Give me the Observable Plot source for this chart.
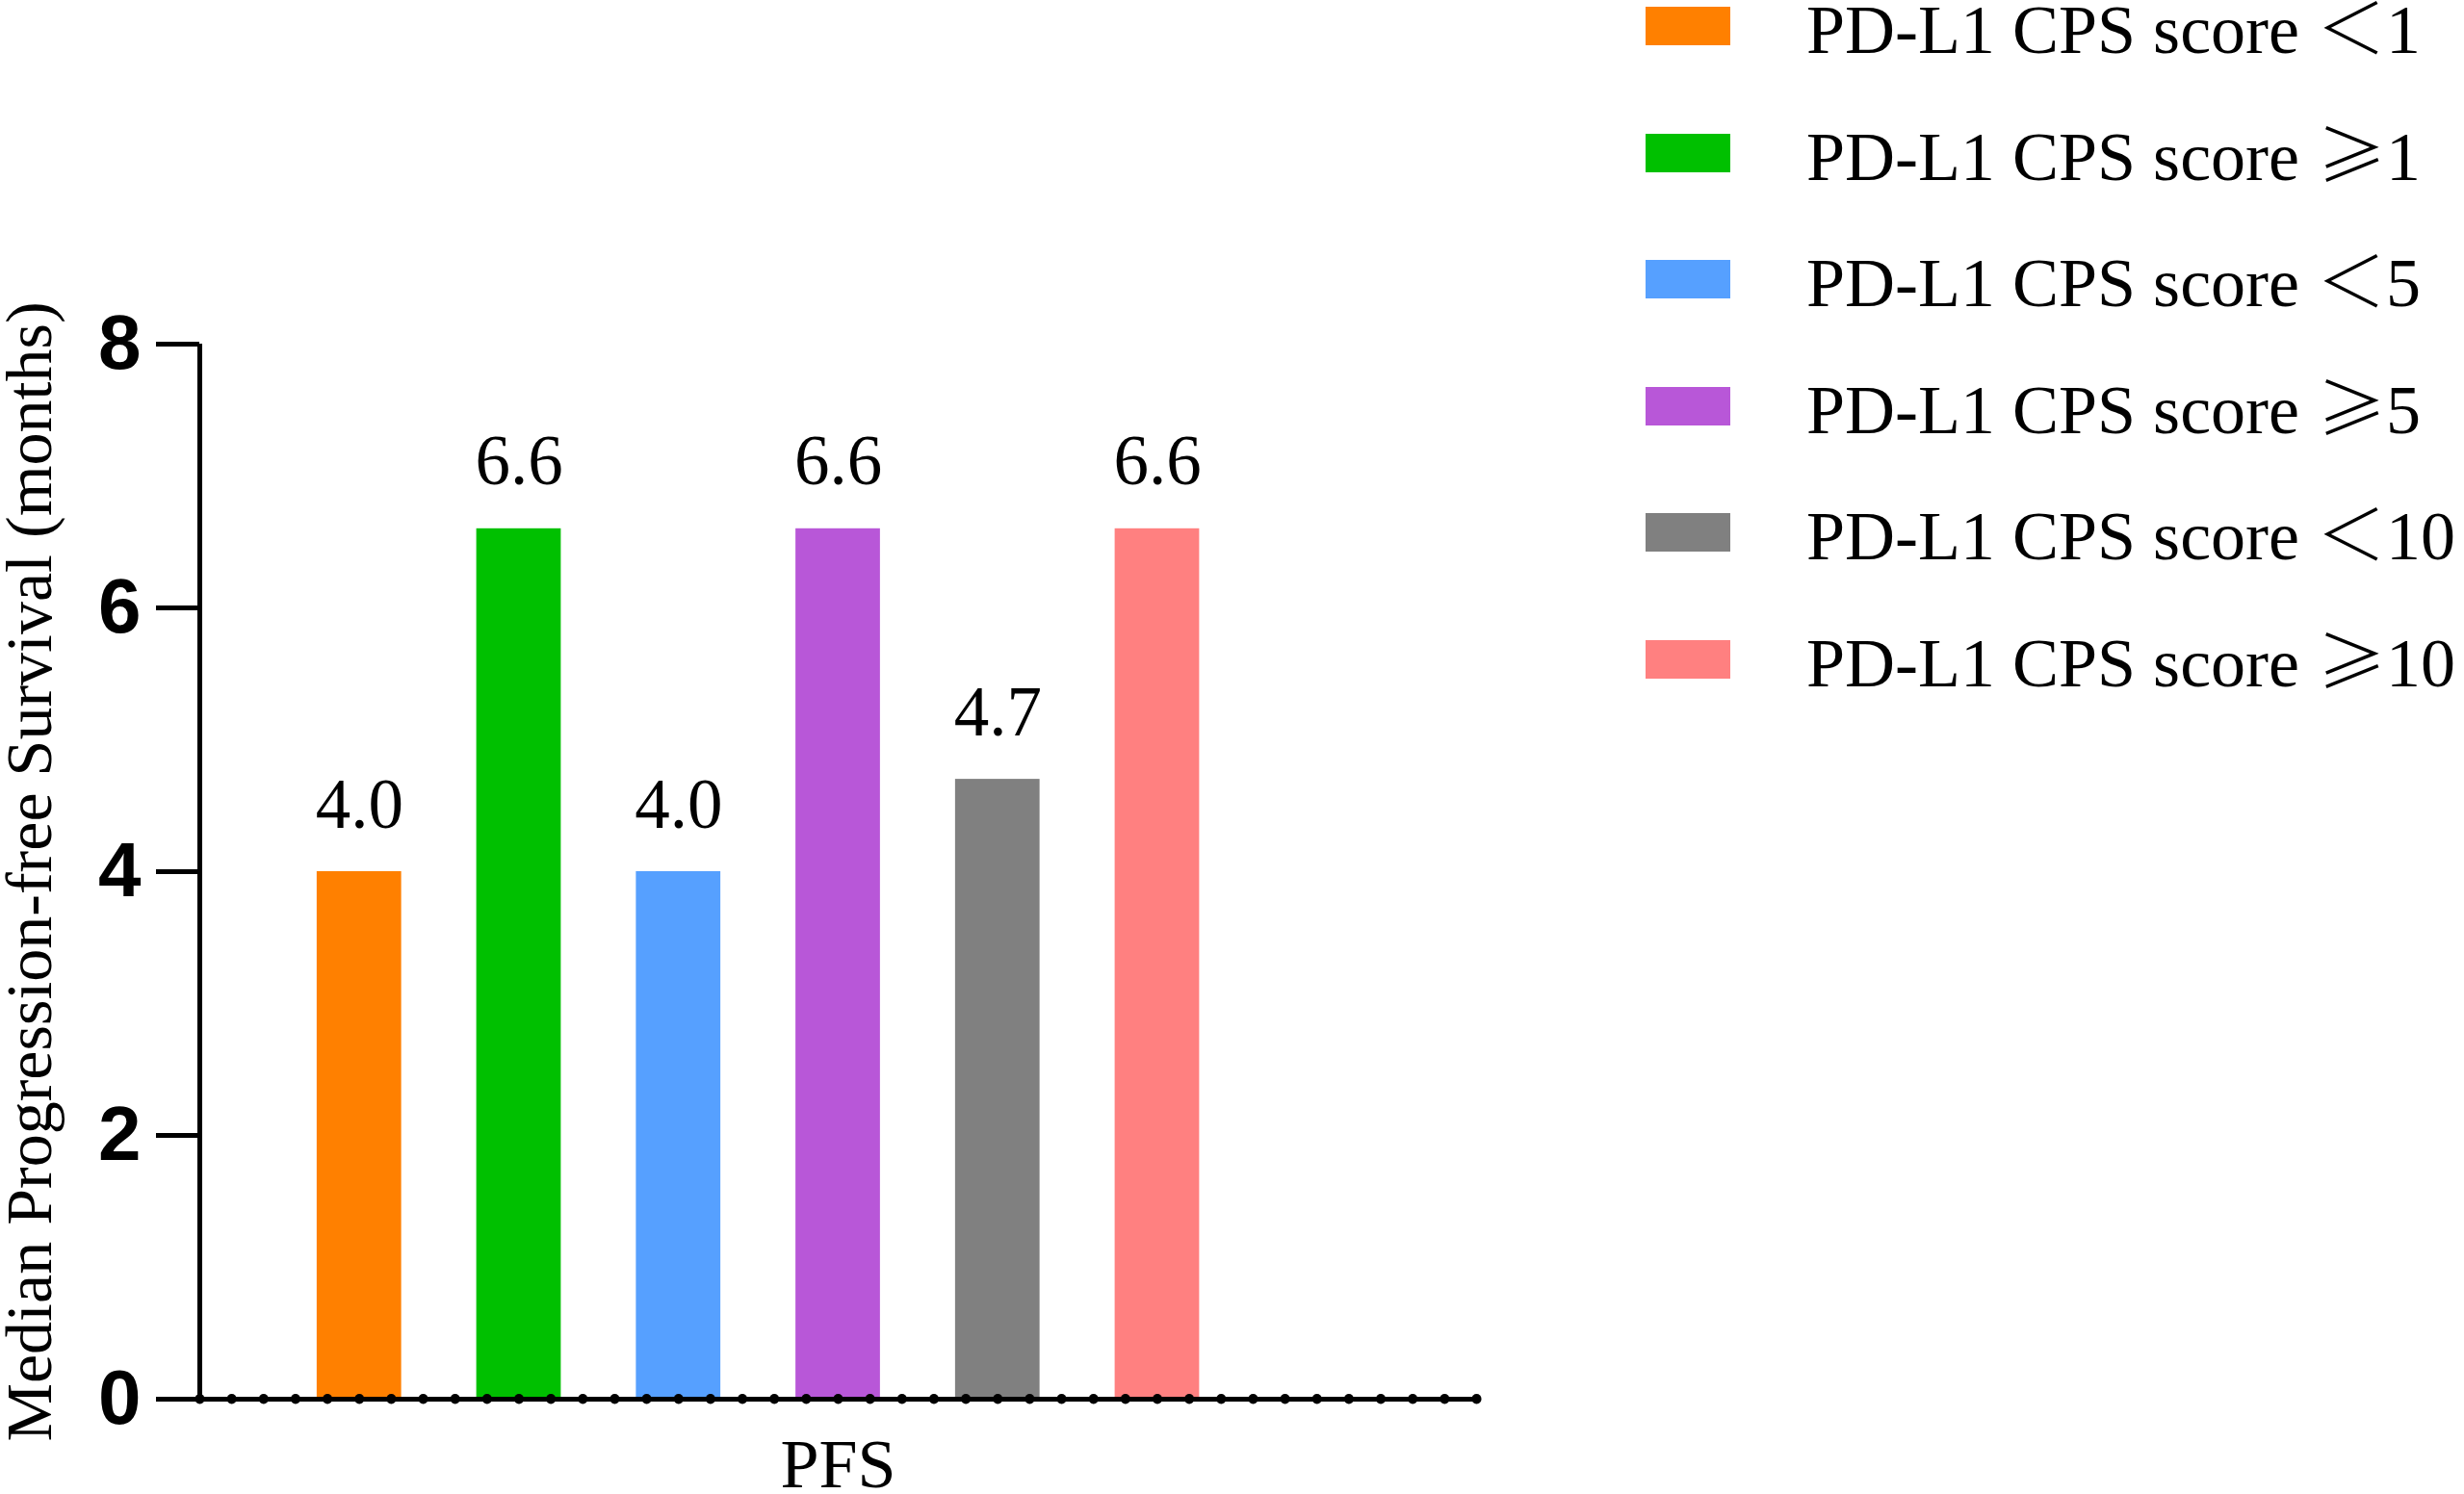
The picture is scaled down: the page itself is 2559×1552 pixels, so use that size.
<!DOCTYPE html>
<html>
<head>
<meta charset="utf-8">
<script src="https://cdn.jsdelivr.net/npm/d3@7"></script>
<script src="https://cdn.jsdelivr.net/npm/@observablehq/plot@0.6"></script>
<style>
  html, body { margin: 0; padding: 0; background: #fff; }
  #wrap { position: relative; width: 2559px; height: 1552px; overflow: hidden; }
  #chart { position: absolute; left: 0; top: 0; }
  #legend { position: absolute; left: 1709px; top: 7px; display: flex; flex-direction: column; gap: 91.5px;
            font-family: "Liberation Serif", "Times New Roman", "Noto Sans CJK SC", serif; font-size: 72px; color: #000; }
  .row { display: flex; align-items: center; height: 40px; white-space: nowrap; }
  .sw { width: 88px; height: 40px; margin-right: 79px; flex: none; }
  .lab { line-height: 1; padding-top: 1px; }
  .sym { font-family: "Noto Sans CJK SC", sans-serif; font-weight: 300; }
</style>
</head>
<body>
<div id="wrap"><div id="chart"></div><div id="legend"></div></div>
<script>
// ---- data ----
const categories = ["PD-L1 CPS score ＜1", "PD-L1 CPS score ≥1", "PD-L1 CPS score ＜5",
                    "PD-L1 CPS score ≥5", "PD-L1 CPS score ＜10", "PD-L1 CPS score ≥10"];
const labelPrefix = "PD-L1 CPS score ";
const labelSymbols = ["＜", "≥", "＜", "≥", "＜", "≥"];
const labelThresholds = ["1", "1", "5", "5", "10", "10"];
const values = [4.0, 6.6, 4.0, 6.6, 4.7, 6.6];
const colors = ["#FF8000", "#00C000", "#56A0FF", "#B857D8", "#808080", "#FF8080"];
const yTicks = [0, 2, 4, 6, 8];
const yTitle = "Median Progression-free Survival (months)";
const xTitle = "PFS";

const rows = categories.map((c, i) => ({group: c, pos: i, value: values[i]}));
const xDomain = [-1, 7];

const serif = "Liberation Serif, Times New Roman, serif";

const chart = Plot.plot({
  width: 1650,
  height: 1552,
  marginLeft: 207,
  marginRight: 117,
  marginTop: 357,
  marginBottom: 99,
  style: {background: "#fff", color: "#000", overflow: "visible"},
  x: {domain: xDomain},
  y: {domain: [yTicks[0], yTicks[yTicks.length - 1]]},
  color: {domain: categories, range: colors},
  marks: [
    Plot.rectY(rows, {x1: d => d.pos - 0.5, x2: d => d.pos + 0.5, y1: 0, y2: "value",
                      fill: "group", insetLeft: 39, insetRight: 39}),
    Plot.text(rows, {x: "pos", y: "value", text: d => d.value.toFixed(1), dy: -46,
                     lineAnchor: "bottom", fontSize: 73, fontFamily: serif, fill: "#000"}),
    Plot.ruleY([0], {stroke: "#000", strokeWidth: 5, insetLeft: -45}),
    Plot.axisX({interval: 0.2, tickSize: 0.5, strokeWidth: 10, strokeLinecap: "round",
                tickFormat: () => "", label: null, stroke: "#000"}),
    Plot.ruleX([xDomain[0]], {y1: yTicks[0], y2: yTicks[yTicks.length - 1], stroke: "#000", strokeWidth: 5}),
    Plot.axisY({ticks: yTicks, tickSize: 45, tickPadding: 16, strokeWidth: 5, stroke: "#000",
                fontSize: 80, fontWeight: "bold", fontFamily: "Liberation Sans, Arial, sans-serif",
                label: null}),
    Plot.text([yTitle], {frameAnchor: "left", rotate: -90, dx: -155, textAnchor: "middle",
                         lineAnchor: "bottom", fontSize: 68, fontFamily: serif, fill: "#000"}),
    Plot.text([xTitle], {frameAnchor: "bottom", dy: 91, lineAnchor: "bottom",
                         fontSize: 72, fontFamily: serif, fill: "#000"})
  ]
});
document.getElementById("chart").appendChild(chart);

// ---- legend ----
const legend = d3.select("#legend");
categories.forEach((c, i) => {
  const row = legend.append("div").attr("class", "row");
  row.append("div").attr("class", "sw").style("background", colors[i]);
  const lab = row.append("div").attr("class", "lab");
  lab.append("span").text(labelPrefix);
  lab.append("span").attr("class", "sym").text(labelSymbols[i]);
  lab.append("span").text(labelThresholds[i]);
});
</script>
</body>
</html>
